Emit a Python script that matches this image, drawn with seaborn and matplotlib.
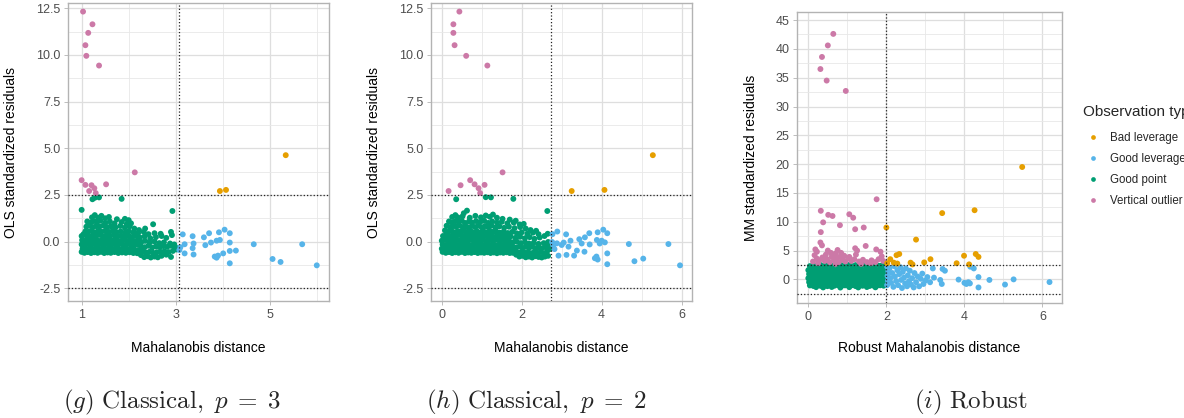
import matplotlib
matplotlib.use("Agg")
import matplotlib.pyplot as plt
import pandas as pd
import seaborn as sns
from matplotlib.ticker import FixedLocator, AutoMinorLocator

sns.set_theme(style="whitegrid")
plt.rcParams["font.family"] = ["Liberation Sans", "DejaVu Sans"]
plt.rcParams["mathtext.fontset"] = "cm"

TYPES = ["Bad leverage", "Good leverage", "Good point", "Vertical outlier"]
COLORS = ["#E69F00", "#56B4E9", "#009E73", "#CC79A7"]

# ---------------- panel (g): classical, p = 3 ----------------
good_g = [
    (1.00, -0.55), (1.06, -0.60), (1.13, -0.56), (1.20, -0.61), (1.27, -0.57), (1.34, -0.60),
    (1.41, -0.55), (1.48, -0.61), (1.55, -0.58), (1.62, -0.60), (1.70, -0.56), (1.78, -0.61),
    (1.86, -0.58), (1.94, -0.60), (2.02, -0.57), (2.10, -0.61), (2.18, -0.62),
    (2.26, -0.72), (2.33, -0.83), (2.40, -0.78), (2.47, -0.85), (2.55, -0.80), (2.62, -0.84),
    (2.70, -0.76), (2.80, -0.70), (2.90, -0.82),
    (1.02, -0.38), (1.09, -0.42), (1.16, -0.36), (1.23, -0.40), (1.30, -0.37), (1.37, -0.41),
    (1.44, -0.35), (1.51, -0.40), (1.58, -0.38), (1.65, -0.42), (1.72, -0.36), (1.80, -0.40),
    (1.88, -0.37), (1.96, -0.41), (2.04, -0.35), (2.12, -0.42), (2.20, -0.45), (2.28, -0.50),
    (2.36, -0.58), (2.44, -0.55), (2.52, -0.60), (2.60, -0.57), (2.68, -0.55), (2.76, -0.52),
    (2.85, -0.56), (2.94, -0.50), (3.02, -0.42),
    (1.00, -0.15), (1.07, -0.18), (1.14, -0.12), (1.21, -0.17), (1.28, -0.13), (1.35, -0.18),
    (1.42, -0.11), (1.49, -0.16), (1.56, -0.14), (1.63, -0.19), (1.70, -0.12), (1.78, -0.17),
    (1.86, -0.13), (1.94, -0.18), (2.02, -0.12), (2.10, -0.20), (2.18, -0.15), (2.26, -0.25),
    (2.34, -0.30), (2.42, -0.22), (2.50, -0.32), (2.58, -0.26), (2.66, -0.30), (2.74, -0.24),
    (2.82, -0.28), (2.90, -0.22), (2.98, -0.30), (3.05, -0.35),
    (1.01, 0.08), (1.08, 0.05), (1.15, 0.10), (1.22, 0.06), (1.29, 0.11), (1.36, 0.04),
    (1.43, 0.09), (1.50, 0.05), (1.57, 0.12), (1.64, 0.06), (1.71, 0.10), (1.79, 0.03),
    (1.87, 0.09), (1.95, 0.05), (2.03, 0.10), (2.11, 0.02), (2.19, 0.06), (2.27, -0.02),
    (2.35, 0.04), (2.45, -0.05), (2.55, 0.00), (2.65, -0.08), (2.75, -0.04), (2.88, -0.10),
    (2.97, -0.15),
    (1.00, 0.30), (1.04, 0.40), (1.10, 0.32), (1.17, 0.28), (1.24, 0.34), (1.31, 0.30),
    (1.38, 0.36), (1.45, 0.29), (1.52, 0.33), (1.60, 0.30), (1.68, 0.35), (1.76, 0.27),
    (1.84, 0.31), (1.92, 0.26), (2.00, 0.33), (2.08, 0.25), (2.16, 0.30), (2.24, 0.22),
    (2.34, 0.28), (2.46, 0.18), (2.58, 0.24), (2.70, 0.30), (2.80, 0.20), (2.92, 0.35),
    (1.08, 0.55), (1.14, 0.52), (1.21, 0.58), (1.28, 0.50), (1.35, 0.56), (1.42, 0.53),
    (1.50, 0.58), (1.58, 0.52), (1.66, 0.57), (1.74, 0.50), (1.83, 0.55), (1.92, 0.48),
    (2.00, 0.56), (2.10, 0.50), (2.20, 0.45), (2.32, 0.52), (2.42, 0.40), (2.55, 0.45),
    (2.68, 0.42), (2.90, 0.52),
    (1.10, 0.80), (1.17, 0.85), (1.24, 0.78), (1.31, 0.83), (1.38, 0.80), (1.46, 0.86),
    (1.54, 0.78), (1.62, 0.82), (1.72, 0.76), (1.82, 0.84), (1.92, 0.75), (2.02, 0.82),
    (2.12, 0.70), (2.22, 0.62), (2.35, 0.70), (2.52, 0.93),
    (1.12, 1.08), (1.19, 1.02), (1.26, 1.10), (1.33, 1.05), (1.40, 1.12), (1.50, 1.00),
    (1.60, 1.08), (1.70, 0.98), (1.85, 1.05), (1.96, 0.95), (2.05, 0.98),
    (1.22, 1.30), (1.28, 1.42), (1.35, 1.28), (1.42, 1.38), (1.50, 1.25), (1.58, 1.32),
    (1.75, 1.20), (1.92, 1.22), (2.00, 1.15),
    (1.00, 1.70), (1.23, 2.27), (1.28, 2.35), (1.37, 2.37), (1.85, 2.29), (2.93, 1.64),
]
goodlev_g = [
    (3.15, 0.39), (3.36, 0.29), (3.60, 0.23), (3.71, 0.45), (3.92, 0.50), (4.04, 0.64),
    (4.15, 0.45), (3.94, 0.09), (3.87, 0.05), (4.15, -0.05), (3.19, -0.14), (3.10, -0.30),
    (3.38, -0.10), (3.36, -0.35), (3.19, -0.63), (3.38, -0.69), (3.63, -0.19), (3.75, -0.05),
    (3.83, -0.80), (3.87, -0.86), (3.90, -0.75), (4.01, -0.63), (4.15, -0.50), (4.28, -0.48),
    (4.15, -1.16), (4.66, -0.14), (5.06, -0.93), (5.23, -1.09), (5.69, -0.14), (6.00, -1.27),
    (3.08, -0.45),
]
badlev_g = [(3.94, 2.71), (4.07, 2.77), (5.34, 4.63)]
vert_g = [
    (1.03, 12.32), (1.23, 11.64), (1.14, 11.18), (1.08, 10.52), (1.10, 9.95), (1.37, 9.43),
    (1.00, 3.29), (1.08, 3.04), (1.21, 3.02), (1.27, 2.86), (1.16, 2.71), (1.30, 2.60),
    (1.52, 3.07), (2.13, 3.71),
]

# ---------------- panel (h): classical, p = 2 ----------------
good_h = [
    (0.02, -0.55), (0.10, -0.60), (0.18, -0.56), (0.26, -0.61), (0.34, -0.57), (0.42, -0.60),
    (0.50, -0.55), (0.58, -0.61), (0.66, -0.58), (0.74, -0.60), (0.82, -0.56), (0.90, -0.61),
    (0.98, -0.58), (1.06, -0.60), (1.14, -0.57), (1.22, -0.61), (1.30, -0.58), (1.38, -0.62),
    (1.46, -0.58), (1.54, -0.60), (1.62, -0.57), (1.70, -0.61), (1.78, -0.60),
    (1.86, -0.70), (1.94, -0.80), (2.02, -0.76), (2.10, -0.84), (2.18, -0.80), (2.26, -0.85),
    (2.34, -0.78), (2.42, -0.82), (2.50, -0.85), (2.58, -0.80), (2.66, -0.76),
    (0.00, -0.38), (0.08, -0.42), (0.16, -0.36), (0.24, -0.40), (0.32, -0.37), (0.40, -0.41),
    (0.48, -0.35), (0.56, -0.40), (0.64, -0.38), (0.72, -0.42), (0.80, -0.36), (0.88, -0.40),
    (0.96, -0.37), (1.04, -0.41), (1.12, -0.35), (1.20, -0.42), (1.28, -0.38), (1.36, -0.41),
    (1.44, -0.36), (1.52, -0.40), (1.60, -0.38), (1.68, -0.43), (1.76, -0.45), (1.84, -0.52),
    (1.92, -0.58), (2.00, -0.55), (2.08, -0.60), (2.16, -0.57), (2.24, -0.62), (2.32, -0.55),
    (2.40, -0.60), (2.48, -0.56), (2.56, -0.62), (2.64, -0.50), (2.70, -0.40),
    (0.02, -0.15), (0.10, -0.18), (0.18, -0.12), (0.26, -0.17), (0.34, -0.13), (0.42, -0.18),
    (0.50, -0.11), (0.58, -0.16), (0.66, -0.14), (0.74, -0.19), (0.82, -0.12), (0.90, -0.17),
    (0.98, -0.13), (1.06, -0.18), (1.14, -0.12), (1.22, -0.20), (1.30, -0.15), (1.38, -0.19),
    (1.46, -0.13), (1.54, -0.18), (1.62, -0.14), (1.70, -0.22), (1.78, -0.28), (1.86, -0.32),
    (1.94, -0.26), (2.02, -0.34), (2.10, -0.28), (2.18, -0.33), (2.26, -0.27), (2.34, -0.35),
    (2.42, -0.30), (2.50, -0.36), (2.58, -0.29), (2.66, -0.25),
    (0.00, 0.05), (0.08, 0.10), (0.16, 0.06), (0.24, 0.11), (0.32, 0.04), (0.40, 0.09),
    (0.48, 0.05), (0.56, 0.12), (0.64, 0.06), (0.72, 0.10), (0.80, 0.03), (0.88, 0.09),
    (0.96, 0.05), (1.04, 0.10), (1.12, 0.02), (1.20, 0.08), (1.28, 0.04), (1.36, 0.11),
    (1.44, 0.05), (1.52, 0.09), (1.60, 0.02), (1.68, 0.06), (1.78, -0.04), (1.88, 0.00),
    (1.98, -0.08), (2.08, -0.03), (2.18, -0.10), (2.30, -0.06), (2.42, -0.12), (2.55, -0.08),
    (2.66, -0.02),
    (0.03, 0.30), (0.10, 0.34), (0.18, 0.28), (0.26, 0.33), (0.34, 0.30), (0.42, 0.36),
    (0.50, 0.29), (0.58, 0.33), (0.66, 0.30), (0.74, 0.35), (0.82, 0.27), (0.90, 0.31),
    (0.98, 0.26), (1.06, 0.33), (1.14, 0.28), (1.22, 0.34), (1.30, 0.25), (1.38, 0.31),
    (1.46, 0.27), (1.54, 0.32), (1.62, 0.24), (1.72, 0.28), (1.84, 0.20), (1.96, 0.26),
    (2.08, 0.18), (2.20, 0.24), (2.32, 0.15), (2.45, 0.22), (2.57, 0.30), (2.65, 0.42),
    (0.08, 0.60), (0.16, 0.52), (0.24, 0.58), (0.32, 0.50), (0.40, 0.56), (0.48, 0.53),
    (0.56, 0.58), (0.64, 0.52), (0.72, 0.57), (0.80, 0.50), (0.88, 0.55), (0.96, 0.48),
    (1.04, 0.56), (1.12, 0.50), (1.20, 0.58), (1.28, 0.52), (1.36, 0.55), (1.45, 0.48),
    (1.55, 0.54), (1.65, 0.46), (1.76, 0.52), (1.88, 0.44), (2.00, 0.50), (2.14, 0.42),
    (2.28, 0.48), (2.42, 0.40),
    (0.12, 0.85), (0.20, 0.78), (0.28, 0.83), (0.36, 0.80), (0.44, 0.86), (0.52, 0.78),
    (0.60, 0.82), (0.68, 0.76), (0.76, 0.84), (0.84, 0.78), (0.92, 0.85), (1.00, 0.76),
    (1.08, 0.83), (1.16, 0.79), (1.24, 0.86), (1.34, 0.76), (1.44, 0.82), (1.56, 0.74),
    (1.68, 0.80), (1.82, 0.72), (1.96, 0.78), (2.10, 0.70), (2.22, 0.62), (2.36, 0.58),
    (0.18, 1.08), (0.26, 1.02), (0.34, 1.10), (0.42, 1.05), (0.50, 1.12), (0.58, 1.00),
    (0.68, 1.08), (0.76, 1.02), (0.86, 1.10), (0.96, 1.04), (1.06, 1.12), (1.16, 1.00),
    (1.26, 1.08), (1.38, 1.02), (1.50, 1.06), (1.64, 0.98), (1.80, 1.02), (1.95, 0.92),
    (2.05, 0.95),
    (0.26, 1.32), (0.34, 1.42), (0.40, 1.30), (0.52, 1.36), (0.70, 1.28), (0.84, 1.38),
    (0.98, 1.30), (1.10, 1.40), (1.20, 1.33), (1.28, 1.45), (1.38, 1.28), (1.52, 1.22),
    (1.70, 1.18), (1.85, 1.12),
    (0.36, 2.27), (1.10, 2.38), (1.23, 2.37), (1.79, 2.29), (2.64, 1.64), (0.63, 1.66),
    (0.55, 1.52),
]
goodlev_h = [
    (2.89, 0.54), (3.11, 0.39), (2.77, 0.40), (3.44, 0.13), (3.58, 0.23), (3.69, 0.45),
    (3.90, 0.50), (4.04, 0.64), (4.14, 0.45), (3.88, 0.09), (4.08, -0.04), (4.00, 0.05),
    (2.88, -0.09), (3.00, -0.18), (3.17, -0.27), (3.38, -0.48), (3.57, -0.54), (2.92, -0.75),
    (3.12, -0.71), (3.31, -0.75), (3.83, -0.89), (3.87, -0.80), (3.90, -0.96), (4.14, -0.63),
    (4.14, -1.21), (4.68, -0.13), (4.82, -1.05), (5.04, -0.91), (5.67, -0.13), (5.96, -1.27),
    (2.79, -0.20), (2.76, -0.02), (2.82, -0.40), (3.05, -0.05), (3.22, 0.05), (3.50, -0.10),
    (3.70, -0.15), (3.95, -0.10),
]
badlev_h = [(3.25, 2.71), (4.07, 2.77), (5.28, 4.63)]
vert_h = [
    (0.44, 12.32), (0.29, 11.64), (0.29, 11.18), (0.32, 10.52), (0.61, 9.95), (1.14, 9.43),
    (0.17, 2.71), (0.47, 3.02), (0.71, 3.29), (0.82, 3.07), (0.92, 2.86), (1.07, 3.04),
    (0.96, 2.60), (1.52, 3.71),
]

# ---------------- panel (i): robust ----------------
good_i = [
    (0.04, 2.30), (0.13, 2.45), (0.22, 2.35), (0.31, 2.50), (0.40, 2.32), (0.49, 2.48),
    (0.58, 2.36), (0.67, 2.50), (0.76, 2.30), (0.85, 2.46), (0.94, 2.34), (1.03, 2.50),
    (1.12, 2.31), (1.21, 2.47), (1.30, 2.35), (1.39, 2.49), (1.48, 2.30), (1.57, 2.44),
    (1.66, 2.33), (1.75, 2.48), (1.84, 2.36), (1.93, 2.45),
    (0.00, 1.60), (0.09, 1.72), (0.18, 1.58), (0.27, 1.70), (0.36, 1.62), (0.45, 1.75),
    (0.54, 1.60), (0.63, 1.68), (0.72, 1.56), (0.81, 1.73), (0.90, 1.61), (0.99, 1.70),
    (1.08, 1.58), (1.17, 1.74), (1.26, 1.62), (1.35, 1.69), (1.44, 1.57), (1.53, 1.72),
    (1.62, 1.60), (1.71, 1.71), (1.80, 1.59), (1.89, 1.70), (1.97, 1.62),
    (0.02, 0.92), (0.11, 1.02), (0.20, 0.90), (0.29, 1.00), (0.38, 0.94), (0.47, 1.05),
    (0.56, 0.90), (0.65, 0.98), (0.74, 0.88), (0.83, 1.03), (0.92, 0.93), (1.01, 1.00),
    (1.10, 0.89), (1.19, 1.04), (1.28, 0.92), (1.37, 0.99), (1.46, 0.88), (1.55, 1.02),
    (1.64, 0.91), (1.73, 1.01), (1.82, 0.90), (1.91, 0.98), (1.97, 0.94),
    (0.00, 0.20), (0.09, 0.32), (0.18, 0.18), (0.27, 0.30), (0.36, 0.22), (0.45, 0.35),
    (0.54, 0.20), (0.63, 0.28), (0.72, 0.16), (0.81, 0.33), (0.90, 0.21), (0.99, 0.30),
    (1.08, 0.18), (1.17, 0.34), (1.26, 0.22), (1.35, 0.29), (1.44, 0.17), (1.53, 0.32),
    (1.62, 0.20), (1.71, 0.31), (1.80, 0.19), (1.89, 0.28), (1.97, 0.24),
    (0.02, -0.48), (0.11, -0.38), (0.20, -0.50), (0.29, -0.40), (0.38, -0.46), (0.47, -0.35),
    (0.56, -0.50), (0.65, -0.42), (0.74, -0.52), (0.83, -0.37), (0.92, -0.49), (1.01, -0.40),
    (1.10, -0.51), (1.19, -0.36), (1.28, -0.48), (1.37, -0.41), (1.46, -0.53), (1.55, -0.38),
    (1.64, -0.50), (1.73, -0.39), (1.82, -0.51), (1.91, -0.42), (1.97, -0.46),
    (0.04, -1.05), (0.13, -1.15), (0.22, -1.02), (0.31, -1.12), (0.40, -1.06), (0.49, -1.18),
    (0.58, -1.03), (0.67, -1.10), (0.76, -1.00), (0.85, -1.16), (0.94, -1.04), (1.03, -1.12),
    (1.12, -1.01), (1.21, -1.17), (1.30, -1.05), (1.39, -1.11), (1.48, -1.02), (1.57, -1.15),
    (1.66, -1.06), (1.75, -1.13), (1.84, -1.03), (1.93, -1.10),
    (0.20, -1.35), (0.38, -1.40), (0.60, -1.32), (0.82, -1.42), (1.05, -1.35), (1.28, -1.40),
    (1.50, -1.33), (1.72, -1.38),
]
goodlev_i = [
    (2.02, 2.20), (2.05, 1.40), (2.03, 0.60), (2.04, -0.20), (2.02, -1.00), (2.08, 1.90),
    (2.10, 0.20), (2.12, -0.60), (2.15, 1.10), (2.18, -1.30), (2.20, 2.30), (2.22, 0.50),
    (2.25, -0.30), (2.28, 1.60), (2.30, -1.00), (2.33, 0.90), (2.36, 2.10), (2.38, -0.10),
    (2.40, -1.50), (2.42, 1.30), (2.45, 0.30), (2.48, -0.70), (2.50, 1.90), (2.53, -1.20),
    (2.55, 0.70), (2.58, -0.30), (2.60, 1.50), (2.63, -0.90), (2.66, 0.20), (2.70, -1.40),
    (2.72, 1.10), (2.76, -0.50), (2.80, 0.50), (2.84, -1.20), (2.88, 0.10), (2.92, 1.00),
    (2.95, -0.80), (3.00, -0.20), (3.05, 0.40), (3.12, -0.50), (3.22, 0.30),
    (3.19, 1.90), (3.44, 1.80), (3.50, 1.50), (4.15, 2.20), (4.24, 1.90), (3.38, -0.10),
    (3.42, -0.80), (3.85, -0.04), (4.00, -0.60), (4.05, -0.80), (4.10, -0.50), (4.14, -0.70),
    (4.36, 0.40), (4.36, -1.40), (4.64, -0.10), (5.04, -0.90), (5.26, 0.00), (6.18, -0.47),
]
badlev_i = [
    (2.00, 9.0), (2.76, 6.9), (3.43, 11.5), (4.26, 12.0), (5.48, 19.5), (2.10, 3.5),
    (2.26, 4.2), (2.33, 4.4), (2.02, 2.8), (2.19, 2.9), (2.28, 2.75), (2.62, 2.9),
    (2.67, 2.6), (2.97, 2.95), (3.13, 3.5), (3.80, 2.8), (3.99, 4.1), (4.12, 2.6),
    (4.29, 4.4), (4.36, 3.9),
]
vert_i = [
    (0.64, 42.6), (0.50, 40.6), (0.35, 38.6), (0.31, 36.5), (0.47, 34.5), (0.96, 32.7),
    (1.75, 13.9), (0.32, 11.9), (0.51, 11.2), (0.62, 11.0), (1.05, 11.3), (1.15, 10.7),
    (0.38, 9.9), (0.81, 9.4), (0.32, 8.2), (1.20, 8.7), (1.42, 9.0),
    (0.31, 6.4), (0.35, 5.9), (1.47, 5.8), (1.74, 5.2), (1.85, 4.8), (1.88, 4.0),
    (0.18, 5.2), (0.22, 4.8), (0.16, 4.2), (0.50, 5.0), (0.58, 4.6), (0.75, 5.1),
    (0.84, 4.6), (0.80, 3.9), (1.20, 5.4), (1.25, 5.0), (1.22, 4.3),
    (0.12, 3.1), (0.22, 3.6), (0.28, 3.3), (0.36, 3.8), (0.42, 3.2), (0.48, 3.5),
    (0.55, 3.0), (0.60, 3.9), (0.66, 3.3), (0.72, 3.6), (0.78, 3.0), (0.88, 3.4),
    (0.95, 3.1), (1.02, 3.7), (1.10, 3.2), (1.18, 3.5), (1.30, 3.1), (1.40, 3.4),
    (1.50, 3.0), (1.62, 3.3), (1.72, 3.0), (1.80, 3.5), (1.92, 3.2), (0.45, 4.3),
    (0.62, 4.2), (0.70, 4.5), (0.92, 4.1), (1.05, 3.9), (0.25, 2.8), (0.70, 2.7),
    (1.35, 2.7), (1.60, 2.8),
]


def frame(good, goodlev, vert, badlev):
    parts = []
    for pts, name in [(good, "Good point"), (goodlev, "Good leverage"),
                      (vert, "Vertical outlier"), (badlev, "Bad leverage")]:
        d = pd.DataFrame(pts, columns=["x", "y"])
        d["type"] = name
        parts.append(d)
    return pd.concat(parts, ignore_index=True)


fig = plt.figure(figsize=(11.84, 4.18), dpi=100)
ax_g = fig.add_axes([68 / 1184, 1 - 301 / 418, 261 / 1184, 298 / 418])
ax_h = fig.add_axes([431 / 1184, 1 - 301 / 418, 261 / 1184, 298 / 418])
ax_i = fig.add_axes([797 / 1184, 1 - 303 / 418, 265 / 1184, 291 / 418])

panels = [
    (ax_g, frame(good_g, goodlev_g, vert_g, badlev_g), 3.06, (0.71, 6.26), (-3.18, 12.78),
     [1, 3, 5], [-2.5, 0, 2.5, 5, 7.5, 10, 12.5], "Mahalanobis distance",
     "OLS standardized residuals"),
    (ax_h, frame(good_h, goodlev_h, vert_h, badlev_h), 2.72, (-0.27, 6.26), (-3.18, 12.78),
     [0, 2, 4, 6], [-2.5, 0, 2.5, 5, 7.5, 10, 12.5], "Mahalanobis distance",
     "OLS standardized residuals"),
    (ax_i, frame(good_i, goodlev_i, vert_i, badlev_i), 1.985, (-0.29, 6.5), (-4.1, 46.4),
     [0, 2, 4, 6], [0, 5, 10, 15, 20, 25, 30, 35, 40, 45], "Robust Mahalanobis distance",
     "MM standardized residuals"),
]

for ax, df, xcut, xlim, ylim, xt, yt, xlab, ylab in panels:
    sns.scatterplot(data=df, x="x", y="y", hue="type", hue_order=TYPES, palette=COLORS,
                    s=18, linewidth=0, ax=ax, legend=(ax is ax_i))
    ax.axvline(xcut, ls=":", color="#222222", lw=0.9, zorder=3)
    ax.axhline(2.5, ls=":", color="#222222", lw=0.9, zorder=3)
    ax.axhline(-2.5, ls=":", color="#222222", lw=0.9, zorder=3)
    ax.set_xlim(*xlim)
    ax.set_ylim(*ylim)
    ax.xaxis.set_major_locator(FixedLocator(xt))
    ax.yaxis.set_major_locator(FixedLocator(yt))
    ax.xaxis.set_minor_locator(AutoMinorLocator(2))
    ax.yaxis.set_minor_locator(AutoMinorLocator(2))
    ax.set_xticklabels([f"{v:g}" for v in xt])
    ax.set_yticklabels([f"{v:.1f}" if ax is not ax_i else f"{v:g}" for v in yt])
    ax.grid(which="major", color="#DEDEDE", lw=0.9)
    ax.grid(which="minor", color="#E8E8E8", lw=0.6)
    ax.set_axisbelow(True)
    ax.set_facecolor("white")
    for sp in ax.spines.values():
        sp.set_visible(True)
        sp.set_color("#B3B3B3")
        sp.set_linewidth(1.0)
    ax.tick_params(which="major", length=3, width=0.6, color="#B3B3B3",
                   labelsize=9, labelcolor="#4D4D4D", pad=2.5, left=True, bottom=True)
    ax.tick_params(which="minor", length=0)
    ax.set_xlabel(xlab, fontsize=10, color="black")
    ax.set_ylabel(ylab, fontsize=10, color="black")

ax_g.xaxis.set_label_coords(0.5, -0.135)
ax_h.xaxis.set_label_coords(0.5, -0.135)
ax_i.xaxis.set_label_coords(0.5, -0.131)
ax_g.yaxis.set_label_coords(-0.19, 0.5)
ax_h.yaxis.set_label_coords(-0.19, 0.5)
ax_i.yaxis.set_label_coords(-0.147, 0.5)

sns.move_legend(ax_i, "upper left", bbox_to_anchor=(1.078, 0.682), frameon=False,
                title="Observation type", alignment="left", fontsize=8.3, title_fontsize=11,
                handlelength=1.8, handletextpad=0.6, labelspacing=0.78, borderpad=0,
                borderaxespad=0, markerscale=0.8)
# a little more room between the legend title and its entries
ax_i.get_legend()._legend_box.sep = 10

fig.text(172 / 1184, 1 - 408 / 418, r"$(g)\ \mathrm{Classical,}\ p\;=\;3$", ha="center",
         va="baseline", fontsize=18)
fig.text(536 / 1184, 1 - 408 / 418, r"$(h)\ \mathrm{Classical,}\ p\;=\;2$", ha="center",
         va="baseline", fontsize=18)
fig.text(971 / 1184, 1 - 408 / 418, r"$(i)\ \mathrm{Robust}$", ha="center",
         va="baseline", fontsize=18)

fig.savefig("out.png", dpi=100, facecolor="white")
